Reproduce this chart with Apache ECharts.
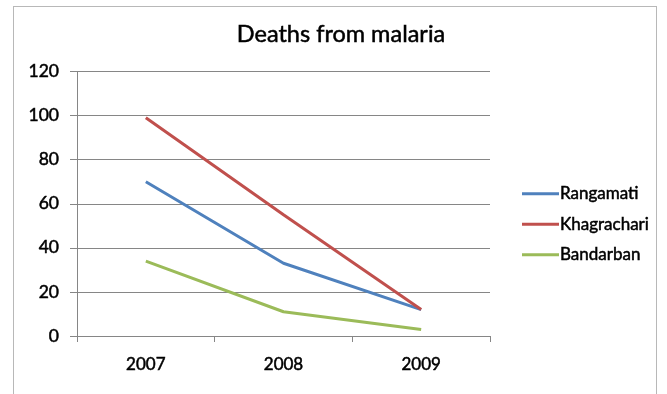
<!DOCTYPE html>
<html>
<head>
<meta charset="utf-8">
<script src="https://cdn.jsdelivr.net/npm/echarts@6/dist/echarts.min.js"></script>
<style>
  html, body { margin: 0; padding: 0; background: #fff; }
  #frame { position: absolute; left: 13px; top: 6px; width: 644px; height: 400px; border: 1px solid #b8b8b8; box-sizing: border-box; }
  #chart { position: absolute; left: 0; top: 0; width: 667px; height: 394px; }
</style>
</head>
<body>
<div id="frame"></div>
<div id="chart"></div>
<script>
// Malaria deaths per district, 2007–2009
const years = ['2007', '2008', '2009'];
const rangamati = [70, 33, 12];
const khagrachari = [99, 55, 12];
const bandarban = [34, 11, 3];
const yTicks = { min: 0, max: 120, interval: 20 };

const font = 'Lato, "Open Sans", sans-serif';
// a thin outline in the text colour gives the labels a slightly heavier stroke
const ink = { color: '#000', textBorderColor: '#000', textBorderWidth: 0.5 };
const chart = echarts.init(document.getElementById('chart'));

function line(name, data, color) {
  return {
    name: name,
    type: 'line',
    data: data,
    symbol: 'none',
    lineStyle: { color: color, width: 3 },
    itemStyle: { color: color },
    animation: false
  };
}

chart.setOption({
  backgroundColor: 'transparent',
  title: {
    text: 'Deaths from malaria',
    left: 336,
    top: 17,
    textAlign: 'center',
    textStyle: Object.assign({ fontFamily: font, fontSize: 23.5, fontWeight: 'normal' }, ink)
  },
  legend: {
    orient: 'vertical',
    left: 517,
    top: 180,
    itemWidth: 37,
    itemHeight: 3,
    itemGap: 13,
    icon: 'rect',
    textStyle: Object.assign({ fontFamily: font, fontSize: 17, padding: [0, 0, 0, -4] }, ink),
    data: ['Rangamati', 'Khagrachari', 'Bandarban']
  },
  grid: { left: 77, right: 177, top: 71.5, bottom: 58 },
  xAxis: {
    type: 'category',
    data: years,
    boundaryGap: true,
    axisLine: { lineStyle: { color: '#868686', width: 1 } },
    axisTick: { show: true, length: 6, lineStyle: { color: '#868686' } },
    axisLabel: Object.assign({ fontFamily: font, fontSize: 17, margin: 20 }, ink)
  },
  yAxis: {
    type: 'value',
    min: yTicks.min,
    max: yTicks.max,
    interval: yTicks.interval,
    axisLine: { show: true, lineStyle: { color: '#868686', width: 1 } },
    axisTick: { show: true, length: 7, lineStyle: { color: '#868686' } },
    axisLabel: Object.assign({ fontFamily: font, fontSize: 17.5, margin: 18 }, ink),
    splitLine: { lineStyle: { color: '#868686', width: 1 } }
  },
  series: [
    line('Rangamati', rangamati, '#4F81BD'),
    line('Khagrachari', khagrachari, '#C0504D'),
    line('Bandarban', bandarban, '#9BBB59')
  ]
});
</script>
</body>
</html>
